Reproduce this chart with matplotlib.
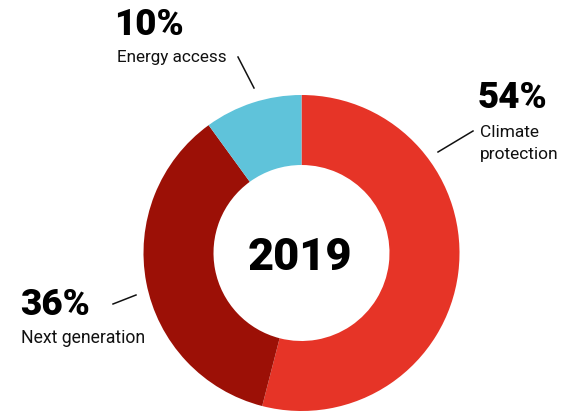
import matplotlib
matplotlib.use("Agg")
import matplotlib.pyplot as plt

# Share of funding by area, 2019
categories = ["Climate protection", "Next generation", "Energy access"]
shares = [54, 36, 10]
pct_labels = ["54%", "36%", "10%"]
year_label = "2019"
colors = ["#E63427", "#9C1006", "#5FC3DA"]

W, H = 563, 411
fig = plt.figure(figsize=(W / 100, H / 100), dpi=100)
ax = fig.add_axes([0, 0, 1, 1])
ax.set_xlim(0, W)
ax.set_ylim(H, 0)  # pixel-style coordinates, y grows downward
ax.set_aspect("equal")
ax.axis("off")

# y axis is inverted, so counterclock=True turns clockwise on screen
ax.pie(shares, colors=colors, center=(301.5, 253), radius=158,
       startangle=-90, counterclock=True,
       wedgeprops=dict(width=70, edgecolor="none", linewidth=0))
ax.set_xlim(0, W)
ax.set_ylim(H, 0)

num_font = dict(family=["Roboto", "DejaVu Sans"], weight="black", color="#000000")
lab_font = dict(family=["Roboto", "DejaVu Sans"], color="#111111")

ax.text(300, 253, year_label, ha="center", va="center_baseline",
        fontsize=32.5, **num_font)

# Climate protection
ax.text(478, 108, pct_labels[0], ha="left", va="baseline", fontsize=26.5, **num_font)
ax.text(480, 137, "Climate", ha="left", va="baseline", fontsize=12.5, **lab_font)
ax.text(480, 159, "protection", ha="left", va="baseline", fontsize=12.5, **lab_font)
ax.plot([473, 438], [131, 152], color="#111111", lw=1.1)

# Next generation
ax.text(20, 315, pct_labels[1], ha="left", va="baseline", fontsize=26.5, **num_font)
ax.text(21, 343, categories[1], ha="left", va="baseline", fontsize=12.7, **lab_font)
ax.plot([113, 136], [304, 295], color="#111111", lw=1.1)

# Energy access
ax.text(114, 35, pct_labels[2], ha="left", va="baseline", fontsize=26.5, **num_font)
ax.text(117, 62, categories[2], ha="left", va="baseline", fontsize=12.3, **lab_font)
ax.plot([238, 254], [57, 88], color="#111111", lw=1.1)

fig.savefig("out.png", dpi=100)
